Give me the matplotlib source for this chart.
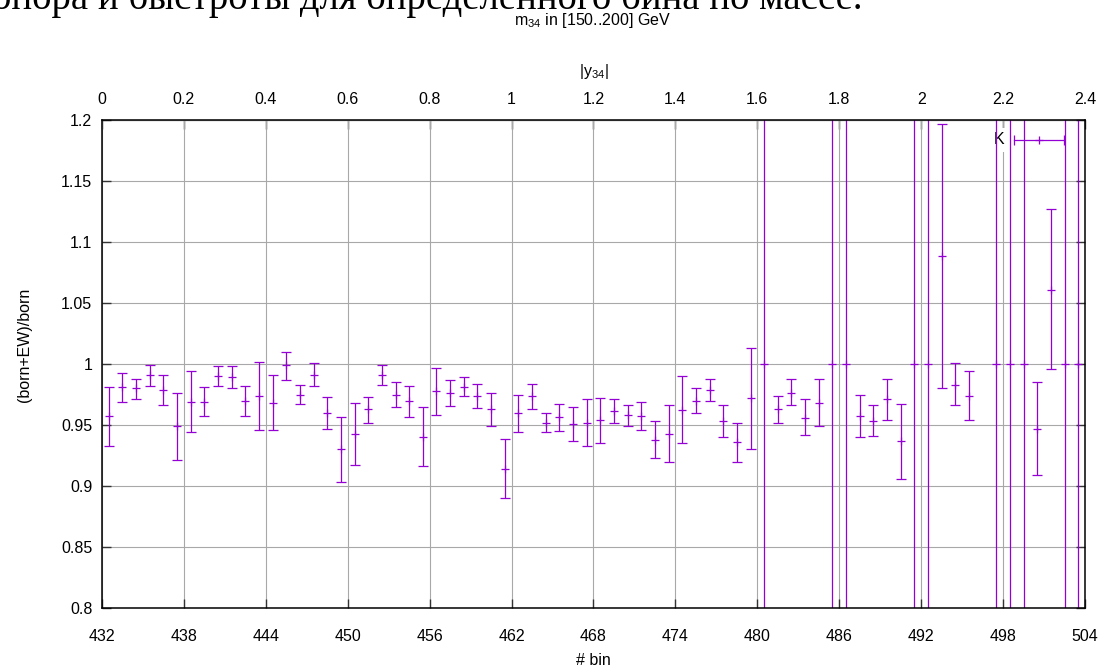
import numpy as np
import matplotlib
matplotlib.use("Agg")
import matplotlib.pyplot as plt
from matplotlib.ticker import FormatStrFormatter

plt.rcParams["font.family"] = ["Liberation Sans", "DejaVu Sans"]
plt.rcParams["mathtext.default"] = "regular"

# bins of the combined (m34, |y34|) histogram and the ratio per bin
bins = list(range(432, 504))
ratio = [
    0.957, 0.981, 0.980, 0.991, 0.9785, 0.949, 0.969, 0.969, 0.990, 0.989,
    0.9695, 0.974, 0.968, 0.999, 0.975, 0.991, 0.9595, 0.930, 0.943, 0.963,
    0.991, 0.975, 0.9695, 0.9405, 0.978, 0.976, 0.981, 0.974, 0.963, 0.914,
    0.9595, 0.9735, 0.952, 0.9565, 0.9505, 0.952, 0.954, 0.9615, 0.958, 0.9575,
    0.938, 0.943, 0.962, 0.970, 0.979, 0.953, 0.936, 0.972, 1.0, 0.963,
    0.9765, 0.956, 0.968, 1.0, 1.0, 0.9575, 0.953, 0.971, 0.9365, 1.0,
    1.0, 1.0885, 0.983, 0.974, np.nan, 1.0, 1.0, 1.0, 0.947, 1.061,
    1.0, 1.0,
]
ratio_hi = [
    0.981, 0.993, 0.988, 0.9995, 0.991, 0.9765, 0.994, 0.981, 0.998, 0.998,
    0.982, 1.002, 0.991, 1.010, 0.983, 1.0005, 0.973, 0.9565, 0.968, 0.973,
    0.999, 0.985, 0.982, 0.9645, 0.997, 0.987, 0.989, 0.984, 0.9765, 0.9385,
    0.975, 0.984, 0.960, 0.967, 0.965, 0.9715, 0.972, 0.9715, 0.966, 0.969,
    0.953, 0.9665, 0.990, 0.980, 0.988, 0.966, 0.952, 1.013, 2.0, 0.974,
    0.9875, 0.971, 0.9875, 2.0, 2.0, 0.975, 0.966, 0.988, 0.967, 2.0,
    2.0, 1.197, 1.0005, 0.994, np.nan, 2.0, 2.0, 2.0, 0.985, 1.127,
    2.0, 2.0,
]
ratio_lo = [
    0.933, 0.969, 0.971, 0.982, 0.966, 0.921, 0.944, 0.957, 0.982, 0.980,
    0.957, 0.946, 0.946, 0.987, 0.9675, 0.982, 0.9465, 0.9035, 0.917, 0.952,
    0.983, 0.965, 0.9565, 0.916, 0.9585, 0.9655, 0.9735, 0.964, 0.949, 0.8905,
    0.944, 0.963, 0.944, 0.945, 0.9365, 0.933, 0.9355, 0.9515, 0.9495, 0.9455,
    0.923, 0.9195, 0.935, 0.9595, 0.970, 0.940, 0.920, 0.930, 0.0, 0.952,
    0.966, 0.942, 0.9495, 0.0, 0.0, 0.940, 0.941, 0.9545, 0.906, 0.0,
    0.0, 0.980, 0.966, 0.954, np.nan, 0.0, 0.0, 0.0, 0.909, 0.996,
    0.0, 0.0,
]

y_ticks = [0.8, 0.85, 0.9, 0.95, 1.0, 1.05, 1.1, 1.15, 1.2]
bin_ticks = list(range(432, 505, 6))
rap_ticks = [0, 0.2, 0.4, 0.6, 0.8, 1, 1.2, 1.4, 1.6, 1.8, 2, 2.2, 2.4]

page_line = "опора и быстроты для определенного бина по массе."

violet = "#9400d3"
fs = 11.5

x = np.array(bins) + 0.5
y = np.array(ratio)
yerr = np.vstack([y - np.array(ratio_lo), np.array(ratio_hi) - y])

fig = plt.figure(figsize=(11.05, 6.72), dpi=100)
ax = fig.add_axes([102 / 1105, 1 - 608 / 672, 983 / 1105, 488 / 672])
ax.set_axisbelow(True)

ax.errorbar(x, y, yerr=yerr, fmt="+", color=violet, ecolor=violet,
            elinewidth=0.9, capsize=3.4, capthick=0.9, markersize=5.5,
            markeredgewidth=0.9, zorder=2)

ax.set_xlim(432, 504)
ax.set_ylim(0.8, 1.2)
ax.set_xticks(bin_ticks)
ax.set_yticks(y_ticks)
ax.yaxis.set_major_formatter(FormatStrFormatter("%g"))
ax.grid(True, color="#a8a8a8", linewidth=0.8)
ax.tick_params(direction="in", length=6.5, width=1.0, labelsize=fs,
               right=True, top=False, pad=7, color="#333333")
ax.tick_params(axis="x", pad=15)
for s in ax.spines.values():
    s.set_linewidth(1.1)

ax.set_xlabel("# bin", fontsize=fs)
ax.xaxis.set_label_coords(0.5, -0.092)
ax.set_ylabel("(born+EW)/born", fontsize=fs)
ax.yaxis.set_label_coords(-0.071, 0.54)

# |y34| runs over the same bins on the top axis
top = ax.secondary_xaxis("top", functions=(lambda b: (b - 432) / 30.0,
                                           lambda r: r * 30.0 + 432))
top.set_xticks(rap_ticks)
top.xaxis.set_major_formatter(FormatStrFormatter("%g"))
top.tick_params(direction="in", length=6.5, width=1.0, labelsize=fs, pad=9,
                color="#333333")
top.set_xlabel("|y$_{34}$|", fontsize=fs, labelpad=12)

fig.text(593 / 1105, 1 - 20 / 672, "m$_{34}$ in [150..200] GeV",
         ha="center", va="center", fontsize=fs)

# key
ky = 1 - (140 - 120) / 488
kx0, kx1 = (1014 - 102) / 983, (1064 - 102) / 983
ax.text(kx0 - 0.01, ky, "K", transform=ax.transAxes, ha="right",
        va="center", fontsize=fs, zorder=1.5,
        bbox=dict(facecolor="white", edgecolor="none", pad=3))
ax.plot([kx0, kx1], [ky, ky], color=violet, lw=0.9, transform=ax.transAxes)
ax.plot([kx0, kx1], [ky, ky], ls="none", marker="|", ms=6.8, mew=0.9,
        color=violet, transform=ax.transAxes)
ax.plot([(kx0 + kx1) / 2], [ky], ls="none", marker="+", ms=5.5, mew=0.9,
        color=violet, transform=ax.transAxes)

# line of the surrounding page text, cut by the top edge;
# font size is scaled so the line spans from just left of the edge to x=863
page = fig.text(863 / 1105, 1 - 9 / 672, page_line, ha="right",
                va="baseline", fontsize=25,
                family=["Liberation Serif", "DejaVu Serif"])
renderer = fig.canvas.get_renderer()
w = page.get_window_extent(renderer).width
page.set_fontsize(25 * 872 / w)

fig.savefig("out.png", dpi=100)
